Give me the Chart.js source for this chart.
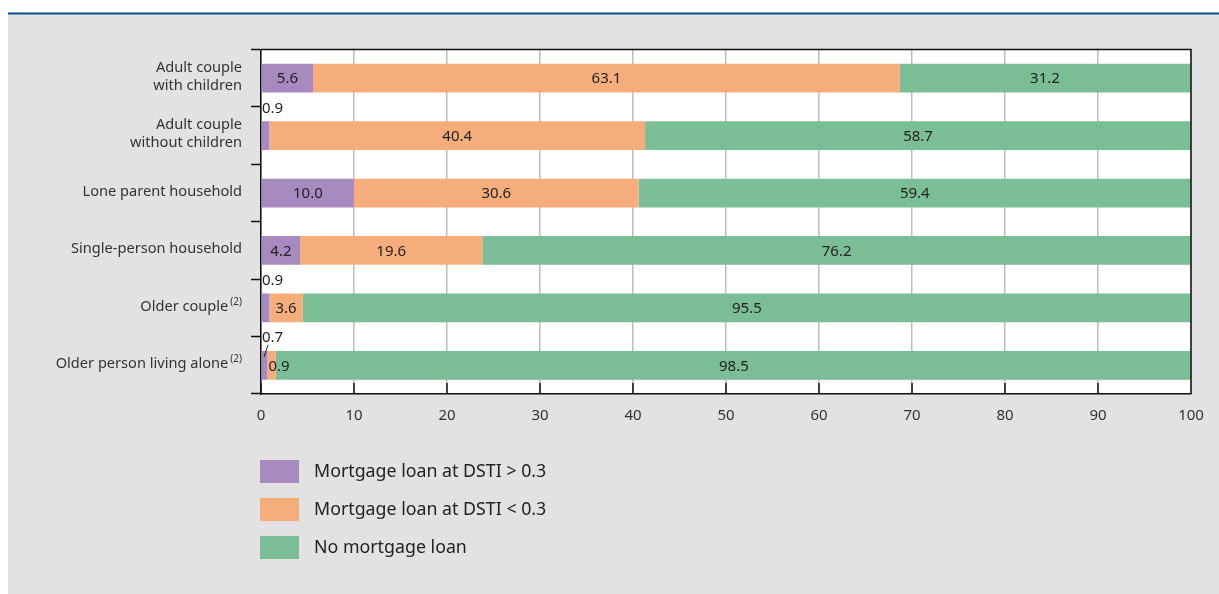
<!DOCTYPE html>
<html>
<head>
<meta charset="utf-8">
<title>Mortgage loans by household type</title>
<script src="https://cdn.jsdelivr.net/npm/chart.js@4/dist/chart.umd.min.js"></script>
<style>
  html, body { margin: 0; padding: 0; background: #fff; }
  canvas { display: block; }
</style>
</head>
<body>
<canvas id="chart" width="1219" height="594"></canvas>
<script>
// household types, top to bottom; footnote marks drawn as superscripts
const categories = [
  ['Adult couple', 'with children'],
  ['Adult couple', 'without children'],
  ['Lone parent household'],
  ['Single-person household'],
  ['Older couple'],
  ['Older person living alone']
];
const notes = ['', '', '', '', '(2)', '(2)'];

// shares of households, %
const dstiAbove = [5.6, 0.9, 10.0, 4.2, 0.9, 0.7];
const dstiBelow = [63.1, 40.4, 30.6, 19.6, 3.6, 0.9];
const noMortgage = [31.2, 58.7, 59.4, 76.2, 95.5, 98.5];

const seriesNames = ['Mortgage loan at DSTI > 0.3', 'Mortgage loan at DSTI < 0.3', 'No mortgage loan'];
const xTicks = [0, 10, 20, 30, 40, 50, 60, 70, 80, 90, 100];

const FONT = '"Noto Sans", "Open Sans", sans-serif';
const PURPLE = '#a78bc0';
const ORANGE = '#f5ae7b';
const GREEN = '#7bbd95';

// grey panel, blue rule on top, white plot area
const backdrop = {
  id: 'backdrop',
  beforeDraw(chart) {
    const { ctx, chartArea: a } = chart;
    ctx.save();
    ctx.fillStyle = '#fff';
    ctx.fillRect(0, 0, chart.width, chart.height);
    ctx.fillStyle = '#e2e2e2';
    ctx.fillRect(8, 14.5, chart.width - 8, chart.height - 14.5);
    ctx.fillStyle = '#0b4a8b';
    ctx.fillRect(8, 12.5, chart.width - 8, 2);
    ctx.fillStyle = '#fff';
    ctx.fillRect(a.left, a.top, a.right - a.left, a.bottom - a.top);
    ctx.restore();
  }
};

// frame on top/right plus small inward ticks on the x axis
const frame = {
  id: 'frame',
  afterDraw(chart) {
    const { ctx, chartArea: a } = chart;
    const xs = chart.scales.x;
    ctx.save();
    ctx.strokeStyle = '#111';
    ctx.lineWidth = 1.5;
    ctx.beginPath();
    ctx.moveTo(a.left, a.top);
    ctx.lineTo(a.right, a.top);
    ctx.lineTo(a.right, a.bottom);
    xTicks.forEach(t => {
      const x = xs.getPixelForValue(t);
      ctx.moveTo(x, a.bottom);
      ctx.lineTo(x, a.bottom - 11);
    });
    ctx.stroke();
    ctx.restore();
  }
};

// numbers on the bar segments
const valueLabels = {
  id: 'valueLabels',
  afterDatasetsDraw(chart) {
    const { ctx } = chart;
    const xs = chart.scales.x;
    ctx.save();
    ctx.font = '15px ' + FONT;
    ctx.fillStyle = '#222';
    ctx.textBaseline = 'middle';
    chart.data.datasets.forEach((ds, di) => {
      chart.getDatasetMeta(di).data.forEach((bar, i) => {
        const txt = ds.data[i].toFixed(1);
        const left = Math.min(bar.x, bar.base);
        const right = Math.max(bar.x, bar.base);
        const top = bar.y - bar.height / 2;
        if (right - left >= 20) {
          ctx.textAlign = 'center';
          ctx.fillText(txt, (left + right) / 2, bar.y + 1);
        } else if (di === 0) {
          // too thin: put it above the bar
          ctx.textAlign = 'left';
          ctx.fillText(txt, xs.left + 1, top - 13);
          if (i === categories.length - 1) {
            ctx.strokeStyle = '#222';
            ctx.lineWidth = 1;
            ctx.beginPath();
            ctx.moveTo(xs.left + 7, top - 6);
            ctx.lineTo(xs.left + 3, top + 6);
            ctx.stroke();
          }
        } else {
          ctx.textAlign = 'left';
          ctx.fillText(txt, left + 1, bar.y + 1);
        }
      });
    });
    ctx.restore();
  }
};

// category names with superscript notes
const categoryLabels = {
  id: 'categoryLabels',
  afterDraw(chart) {
    const { ctx } = chart;
    const ys = chart.scales.y;
    const rightEdge = 242;
    ctx.save();
    ctx.fillStyle = '#333';
    ctx.textBaseline = 'middle';
    ctx.textAlign = 'right';
    categories.forEach((lines, i) => {
      const cy = ys.getPixelForValue(i) - 1.5;
      let right = rightEdge;
      if (notes[i]) {
        ctx.font = '10px ' + FONT;
        const w = ctx.measureText(notes[i]).width;
        ctx.fillText(notes[i], rightEdge, cy - 4.5);
        right = rightEdge - w - 2;
      }
      ctx.font = '14.6px ' + FONT;
      const step = 18;
      const y0 = cy - (lines.length - 1) * step / 2;
      lines.forEach((ln, k) => ctx.fillText(ln, right, y0 + k * step));
    });
    ctx.restore();
  }
};

// legend below the plot
const legendBoxes = {
  id: 'legendBoxes',
  afterDraw(chart) {
    const { ctx } = chart;
    ctx.save();
    ctx.font = '17.8px ' + FONT;
    ctx.textBaseline = 'middle';
    ctx.textAlign = 'left';
    chart.data.datasets.forEach((ds, i) => {
      const y = 460 + i * 38;
      ctx.fillStyle = ds.backgroundColor;
      ctx.fillRect(260, y, 39, 23);
      ctx.fillStyle = '#222';
      ctx.fillText(ds.label, 314, y + 11.5);
    });
    ctx.restore();
  }
};

new Chart(document.getElementById('chart'), {
  type: 'bar',
  data: {
    labels: categories.map(c => c.join(' ')),
    datasets: [
      { label: seriesNames[0], data: dstiAbove, backgroundColor: PURPLE },
      { label: seriesNames[1], data: dstiBelow, backgroundColor: ORANGE },
      { label: seriesNames[2], data: noMortgage, backgroundColor: GREEN }
    ]
  },
  options: {
    indexAxis: 'y',
    responsive: false,
    animation: false,
    devicePixelRatio: 1,
    categoryPercentage: 1,
    barPercentage: 0.5,
    layout: { padding: { left: 8, right: 28, top: 49.5, bottom: 160 } },
    plugins: { legend: { display: false }, tooltip: { enabled: false } },
    scales: {
      x: {
        stacked: true,
        min: 0,
        max: 100,
        afterBuildTicks: s => { s.ticks = xTicks.map(v => ({ value: v })); },
        afterFit: s => { s.height = 40; },
        grid: { color: '#bdbdbd', lineWidth: 1.5, drawTicks: false },
        border: { color: '#111', width: 1.5 },
        ticks: { color: '#333', padding: 13, font: { family: FONT, size: 15 } }
      },
      y: {
        stacked: true,
        afterFit: s => { s.width = 253; },
        grid: { drawOnChartArea: false, drawTicks: true, tickLength: 10, tickColor: '#111', tickWidth: 1.5 },
        border: { color: '#111', width: 1.5 },
        ticks: { display: false }
      }
    }
  },
  plugins: [backdrop, frame, valueLabels, categoryLabels, legendBoxes]
});
</script>
</body>
</html>
